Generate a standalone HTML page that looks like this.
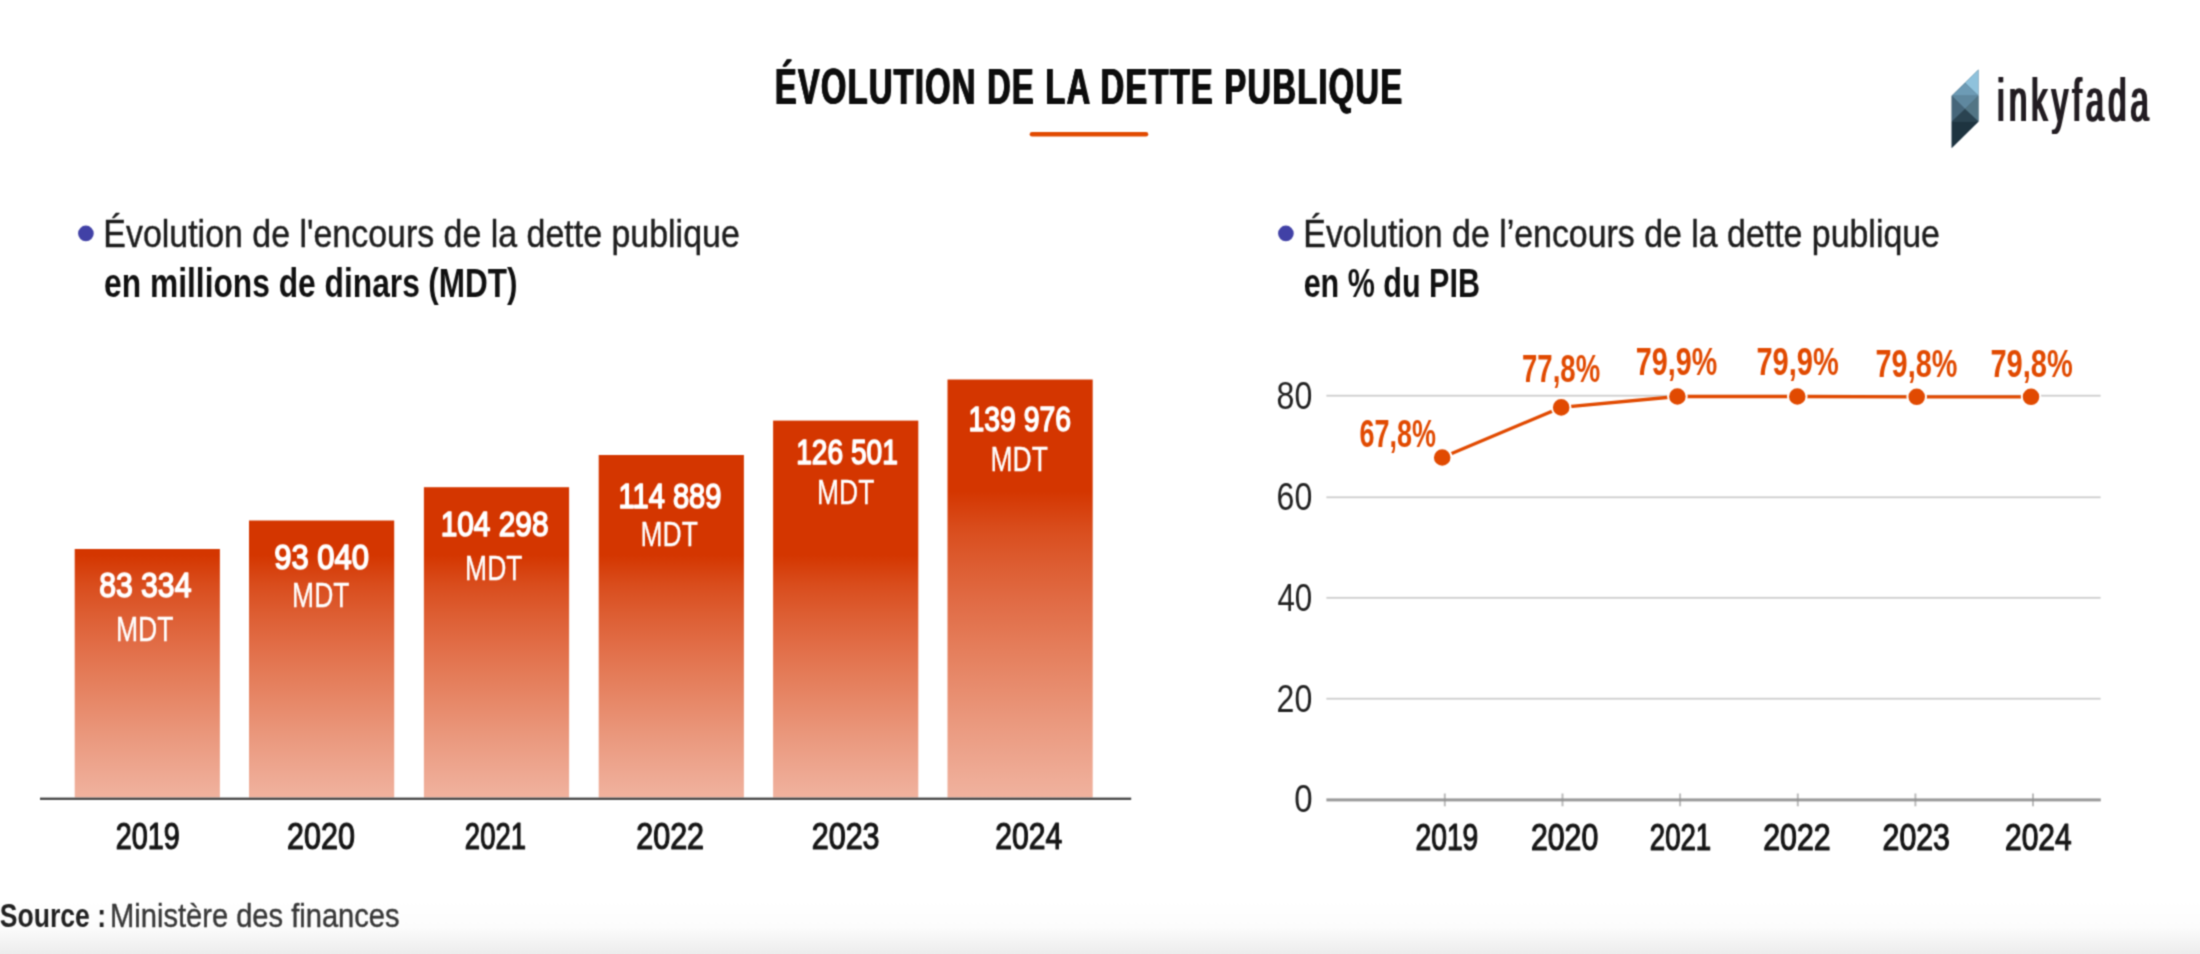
<!DOCTYPE html>
<html lang="fr"><head><meta charset="utf-8"><title>Évolution de la dette publique</title>
<style>
html,body{margin:0;padding:0;background:#fff;}
body{width:2200px;height:954px;overflow:hidden;position:relative;}
svg{display:block;position:absolute;left:-6px;top:-6px;font-family:'Liberation Sans', Arial, sans-serif;}
</style></head><body>
<svg width="2212" height="966" viewBox="-6 -6 2212 966">
<defs><filter id="soft" filterUnits="userSpaceOnUse" x="-6" y="-6" width="2212" height="966" color-interpolation-filters="sRGB"><feConvolveMatrix order="3" kernelMatrix="0.5 1.5 0.5 1.5 4 1.5 0.5 1.5 0.5" divisor="12" edgeMode="duplicate" preserveAlpha="true"/></filter></defs>
<g filter="url(#soft)">
<rect x="-6" y="-6" width="2212" height="966" fill="#ffffff"/>
<defs><filter id="hx50" x="-5%" y="-20%" width="110%" height="140%"><feOffset in="SourceGraphic" dx="0.5" dy="0" result="a"/><feOffset in="SourceGraphic" dx="-0.5" dy="0" result="b"/><feMerge><feMergeNode in="a"/><feMergeNode in="b"/><feMergeNode in="SourceGraphic"/></feMerge></filter><filter id="hx90" x="-5%" y="-20%" width="110%" height="140%"><feOffset in="SourceGraphic" dx="0.9" dy="0" result="a"/><feOffset in="SourceGraphic" dx="-0.9" dy="0" result="b"/><feMerge><feMergeNode in="a"/><feMergeNode in="b"/><feMergeNode in="SourceGraphic"/></feMerge></filter></defs>
<defs>
<linearGradient id="gA" gradientUnits="userSpaceOnUse" x1="0" y1="555" x2="0" y2="797"><stop offset="0.0" stop-color="#d43600"/><stop offset="0.125" stop-color="#d94d1d"/><stop offset="0.25" stop-color="#dd5e33"/><stop offset="0.375" stop-color="#e16d47"/><stop offset="0.5" stop-color="#e47c59"/><stop offset="0.625" stop-color="#e78a6b"/><stop offset="0.75" stop-color="#ea987d"/><stop offset="0.875" stop-color="#eda58e"/><stop offset="1.0" stop-color="#f0b29e"/></linearGradient>
<linearGradient id="gB" gradientUnits="userSpaceOnUse" x1="0" y1="491" x2="0" y2="797"><stop offset="0.0" stop-color="#d43600"/><stop offset="0.125" stop-color="#d94d1d"/><stop offset="0.25" stop-color="#dd5e33"/><stop offset="0.375" stop-color="#e16d47"/><stop offset="0.5" stop-color="#e47c59"/><stop offset="0.625" stop-color="#e78a6b"/><stop offset="0.75" stop-color="#ea987d"/><stop offset="0.875" stop-color="#eda58e"/><stop offset="1.0" stop-color="#f0b29e"/></linearGradient>
<linearGradient id="gBottom" gradientUnits="userSpaceOnUse" x1="0" y1="900" x2="0" y2="954"><stop offset="0" stop-color="#ffffff"/><stop offset="0.5" stop-color="#fcfcfc"/><stop offset="1" stop-color="#ececec"/></linearGradient>
</defs>
<rect x="-6" y="900" width="2212" height="60" fill="url(#gBottom)"/>
<text x="774.44" y="104.1" font-size="50" font-weight="700" fill="#0a0a0a" textLength="628.50" lengthAdjust="spacingAndGlyphs" style="letter-spacing:2px" filter="url(#hx50)">ÉVOLUTION DE LA DETTE PUBLIQUE</text>
<line x1="1032" y1="134.3" x2="1146" y2="134.3" stroke="#e14a01" stroke-width="4.6" stroke-linecap="round"/>
<g>
<polygon points="1978.5,69.5 1951.7,95.8 1951.7,148 1978.5,121.5" fill="#3f5b6b"/>
<polygon points="1978.5,69.5 1978.5,95.8 1965,82.8" fill="#8fc2dc"/>
<polygon points="1965,82.8 1978.5,95.8 1951.7,95.8" fill="#6d9bb5"/>
<polygon points="1951.7,95.8 1978.5,95.8 1965,109" fill="#5f889f"/>
<polygon points="1978.5,95.8 1978.5,121.5 1965,109" fill="#527585"/>
<polygon points="1951.7,95.8 1965,109 1951.7,121.5" fill="#46667a"/>
<polygon points="1965,109 1978.5,121.5 1951.7,121.5" fill="#2a4351"/>
<polygon points="1951.7,121.5 1978.5,121.5 1951.7,148" fill="#1e3440"/>
</g>
<text x="1997.36" y="121" font-size="61" font-weight="400" fill="#231f20" textLength="155.62" lengthAdjust="spacingAndGlyphs" style="letter-spacing:8px" filter="url(#hx90)">inkyfada</text>
<circle cx="85.9" cy="233.4" r="7.8" fill="#4141a6"/>
<text x="103.30" y="247.3" font-size="38.8" font-weight="400" fill="#1e1e1e" textLength="636.47" lengthAdjust="spacingAndGlyphs" stroke="#1e1e1e" stroke-width="0.45" stroke-linejoin="round">Évolution de l'encours de la dette publique</text>
<text x="104.11" y="297.0" font-size="40" font-weight="700" fill="#111" textLength="315.67" lengthAdjust="spacingAndGlyphs">en millions de dinars</text>
<text x="428.22" y="297.0" font-size="40" font-weight="700" fill="#111" textLength="89.27" lengthAdjust="spacingAndGlyphs">(MDT)</text>
<circle cx="1285.9" cy="233.4" r="7.8" fill="#4141a6"/>
<text x="1303.31" y="247.3" font-size="38.8" font-weight="400" fill="#1e1e1e" textLength="636.66" lengthAdjust="spacingAndGlyphs" stroke="#1e1e1e" stroke-width="0.45" stroke-linejoin="round">Évolution de l’encours de la dette publique</text>
<text x="1303.67" y="297.0" font-size="40" font-weight="700" fill="#111" textLength="176.26" lengthAdjust="spacingAndGlyphs">en % du PIB</text>
<rect x="74.7" y="549.0" width="145.2" height="248.5" fill="url(#gA)"/>
<text x="99.18" y="596.6999999999999" font-size="35" font-weight="400" fill="#ffffff" textLength="92.24" lengthAdjust="spacingAndGlyphs" stroke="#ffffff" stroke-width="1.6" stroke-linejoin="round">83 334</text>
<text x="115.97" y="640.9" font-size="35" font-weight="400" fill="#ffffff" textLength="57.60" lengthAdjust="spacingAndGlyphs" stroke="#ffffff" stroke-width="0.3" stroke-linejoin="round">MDT</text>
<text x="115.70" y="848.8" font-size="36" font-weight="400" fill="#161616" textLength="63.97" lengthAdjust="spacingAndGlyphs" stroke="#161616" stroke-width="1.2" stroke-linejoin="round">2019</text>
<rect x="249.0" y="520.5" width="145.2" height="277.0" fill="url(#gA)"/>
<text x="274.33" y="568.8" font-size="35" font-weight="400" fill="#ffffff" textLength="94.71" lengthAdjust="spacingAndGlyphs" stroke="#ffffff" stroke-width="1.6" stroke-linejoin="round">93 040</text>
<text x="292.08" y="607.2" font-size="35" font-weight="400" fill="#ffffff" textLength="57.39" lengthAdjust="spacingAndGlyphs" stroke="#ffffff" stroke-width="0.3" stroke-linejoin="round">MDT</text>
<text x="287.11" y="848.8" font-size="36" font-weight="400" fill="#161616" textLength="67.72" lengthAdjust="spacingAndGlyphs" stroke="#161616" stroke-width="1.2" stroke-linejoin="round">2020</text>
<rect x="423.9" y="487.2" width="145.2" height="310.3" fill="url(#gA)"/>
<text x="440.64" y="536.4" font-size="35" font-weight="400" fill="#ffffff" textLength="107.86" lengthAdjust="spacingAndGlyphs" stroke="#ffffff" stroke-width="1.6" stroke-linejoin="round">104 298</text>
<text x="465.08" y="579.5" font-size="35" font-weight="400" fill="#ffffff" textLength="57.39" lengthAdjust="spacingAndGlyphs" stroke="#ffffff" stroke-width="0.3" stroke-linejoin="round">MDT</text>
<text x="464.87" y="848.8" font-size="36" font-weight="400" fill="#161616" textLength="61.12" lengthAdjust="spacingAndGlyphs" stroke="#161616" stroke-width="1.2" stroke-linejoin="round">2021</text>
<rect x="598.7" y="455.0" width="145.2" height="342.5" fill="url(#gA)"/>
<text x="618.51" y="508.09999999999997" font-size="35" font-weight="400" fill="#ffffff" textLength="102.89" lengthAdjust="spacingAndGlyphs" stroke="#ffffff" stroke-width="1.6" stroke-linejoin="round">114 889</text>
<text x="640.48" y="545.8" font-size="35" font-weight="400" fill="#ffffff" textLength="57.39" lengthAdjust="spacingAndGlyphs" stroke="#ffffff" stroke-width="0.3" stroke-linejoin="round">MDT</text>
<text x="636.21" y="848.8" font-size="36" font-weight="400" fill="#161616" textLength="67.87" lengthAdjust="spacingAndGlyphs" stroke="#161616" stroke-width="1.2" stroke-linejoin="round">2022</text>
<rect x="773.1" y="420.6" width="145.2" height="376.9" fill="url(#gA)"/>
<text x="796.19" y="464.4" font-size="35" font-weight="400" fill="#ffffff" textLength="101.74" lengthAdjust="spacingAndGlyphs" stroke="#ffffff" stroke-width="1.6" stroke-linejoin="round">126 501</text>
<text x="816.98" y="503.6" font-size="35" font-weight="400" fill="#ffffff" textLength="57.39" lengthAdjust="spacingAndGlyphs" stroke="#ffffff" stroke-width="0.3" stroke-linejoin="round">MDT</text>
<text x="811.71" y="848.8" font-size="36" font-weight="400" fill="#161616" textLength="67.87" lengthAdjust="spacingAndGlyphs" stroke="#161616" stroke-width="1.2" stroke-linejoin="round">2023</text>
<rect x="947.5" y="379.5" width="145.2" height="418.0" fill="url(#gB)"/>
<text x="968.57" y="430.79999999999995" font-size="35" font-weight="400" fill="#ffffff" textLength="102.47" lengthAdjust="spacingAndGlyphs" stroke="#ffffff" stroke-width="1.6" stroke-linejoin="round">139 976</text>
<text x="990.48" y="471.1" font-size="35" font-weight="400" fill="#ffffff" textLength="57.39" lengthAdjust="spacingAndGlyphs" stroke="#ffffff" stroke-width="0.3" stroke-linejoin="round">MDT</text>
<text x="995.33" y="848.8" font-size="36" font-weight="400" fill="#161616" textLength="66.99" lengthAdjust="spacingAndGlyphs" stroke="#161616" stroke-width="1.2" stroke-linejoin="round">2024</text>
<rect x="40" y="797.6" width="1091.2" height="2.3" fill="#444444"/>
<rect x="1326.4" y="394.8" width="774.2" height="1.8" fill="#cdcdcd"/>
<rect x="1326.4" y="496.4" width="774.2" height="1.8" fill="#cdcdcd"/>
<rect x="1326.4" y="596.9" width="774.2" height="1.8" fill="#cdcdcd"/>
<rect x="1326.4" y="697.8" width="774.2" height="1.8" fill="#cdcdcd"/>
<rect x="1326.4" y="798.4" width="774.4" height="3" fill="#9a9a9a"/>
<rect x="1443.8" y="793.5" width="2" height="12.8" fill="#8f8f8f" fill-opacity="0.6"/>
<rect x="1561.5" y="793.5" width="2" height="12.8" fill="#8f8f8f" fill-opacity="0.6"/>
<rect x="1679.1" y="793.5" width="2" height="12.8" fill="#8f8f8f" fill-opacity="0.6"/>
<rect x="1796.8" y="793.5" width="2" height="12.8" fill="#8f8f8f" fill-opacity="0.6"/>
<rect x="1914.4" y="793.5" width="2" height="12.8" fill="#8f8f8f" fill-opacity="0.6"/>
<rect x="2032.0" y="793.5" width="2" height="12.8" fill="#8f8f8f" fill-opacity="0.6"/>
<text x="1276.56" y="408.5" font-size="39" font-weight="400" fill="#222" textLength="35.69" lengthAdjust="spacingAndGlyphs">80</text>
<text x="1276.56" y="509.7" font-size="39" font-weight="400" fill="#222" textLength="35.69" lengthAdjust="spacingAndGlyphs">60</text>
<text x="1277.40" y="610.8" font-size="39" font-weight="400" fill="#222" textLength="34.82" lengthAdjust="spacingAndGlyphs">40</text>
<text x="1276.56" y="711.7" font-size="39" font-weight="400" fill="#222" textLength="35.69" lengthAdjust="spacingAndGlyphs">20</text>
<text x="1294.21" y="812.4" font-size="39" font-weight="400" fill="#222" textLength="18.33" lengthAdjust="spacingAndGlyphs">0</text>
<text x="1415.53" y="849.8" font-size="36" font-weight="400" fill="#161616" textLength="62.81" lengthAdjust="spacingAndGlyphs" stroke="#161616" stroke-width="1.2" stroke-linejoin="round">2019</text>
<text x="1530.92" y="849.8" font-size="36" font-weight="400" fill="#161616" textLength="67.30" lengthAdjust="spacingAndGlyphs" stroke="#161616" stroke-width="1.2" stroke-linejoin="round">2020</text>
<text x="1649.77" y="849.8" font-size="36" font-weight="400" fill="#161616" textLength="61.44" lengthAdjust="spacingAndGlyphs" stroke="#161616" stroke-width="1.2" stroke-linejoin="round">2021</text>
<text x="1763.22" y="849.8" font-size="36" font-weight="400" fill="#161616" textLength="67.45" lengthAdjust="spacingAndGlyphs" stroke="#161616" stroke-width="1.2" stroke-linejoin="round">2022</text>
<text x="1882.52" y="849.8" font-size="36" font-weight="400" fill="#161616" textLength="67.45" lengthAdjust="spacingAndGlyphs" stroke="#161616" stroke-width="1.2" stroke-linejoin="round">2023</text>
<text x="2005.04" y="849.8" font-size="36" font-weight="400" fill="#161616" textLength="66.57" lengthAdjust="spacingAndGlyphs" stroke="#161616" stroke-width="1.2" stroke-linejoin="round">2024</text>
<polyline fill="none" stroke="#e14a01" stroke-width="3.3" points="1442.2,457.5 1561.2,407.4 1677.4,396.5 1797.3,396.5 1916.7,396.8 2031.0,396.8"/>
<circle cx="1442.2" cy="457.5" r="9.3" fill="#e14a01" stroke="#ffffff" stroke-width="2"/>
<circle cx="1561.2" cy="407.4" r="9.3" fill="#e14a01" stroke="#ffffff" stroke-width="2"/>
<circle cx="1677.4" cy="396.5" r="9.3" fill="#e14a01" stroke="#ffffff" stroke-width="2"/>
<circle cx="1797.3" cy="396.5" r="9.3" fill="#e14a01" stroke="#ffffff" stroke-width="2"/>
<circle cx="1916.7" cy="396.8" r="9.3" fill="#e14a01" stroke="#ffffff" stroke-width="2"/>
<circle cx="2031.0" cy="396.8" r="9.3" fill="#e14a01" stroke="#ffffff" stroke-width="2"/>
<text x="1359.39" y="447.4" font-size="38" font-weight="700" fill="#e14a01" textLength="76.54" lengthAdjust="spacingAndGlyphs">67,8%</text>
<text x="1522.05" y="382.2" font-size="38" font-weight="700" fill="#e14a01" textLength="78.09" lengthAdjust="spacingAndGlyphs">77,8%</text>
<text x="1635.79" y="374.7" font-size="38" font-weight="700" fill="#e14a01" textLength="81.38" lengthAdjust="spacingAndGlyphs">79,9%</text>
<text x="1756.47" y="374.7" font-size="38" font-weight="700" fill="#e14a01" textLength="82.30" lengthAdjust="spacingAndGlyphs">79,9%</text>
<text x="1875.58" y="376.8" font-size="38" font-weight="700" fill="#e14a01" textLength="81.79" lengthAdjust="spacingAndGlyphs">79,8%</text>
<text x="1990.47" y="376.8" font-size="38" font-weight="700" fill="#e14a01" textLength="82.30" lengthAdjust="spacingAndGlyphs">79,8%</text>
<text x="-0.28" y="927.3" font-size="34" font-weight="700" fill="#222" textLength="106.26" lengthAdjust="spacingAndGlyphs">Source :</text>
<text x="110.03" y="927.3" font-size="34" font-weight="400" fill="#383838" textLength="289.56" lengthAdjust="spacingAndGlyphs" stroke="#383838" stroke-width="0.4" stroke-linejoin="round">Ministère des finances</text>
</g>
</svg>
</body></html>
